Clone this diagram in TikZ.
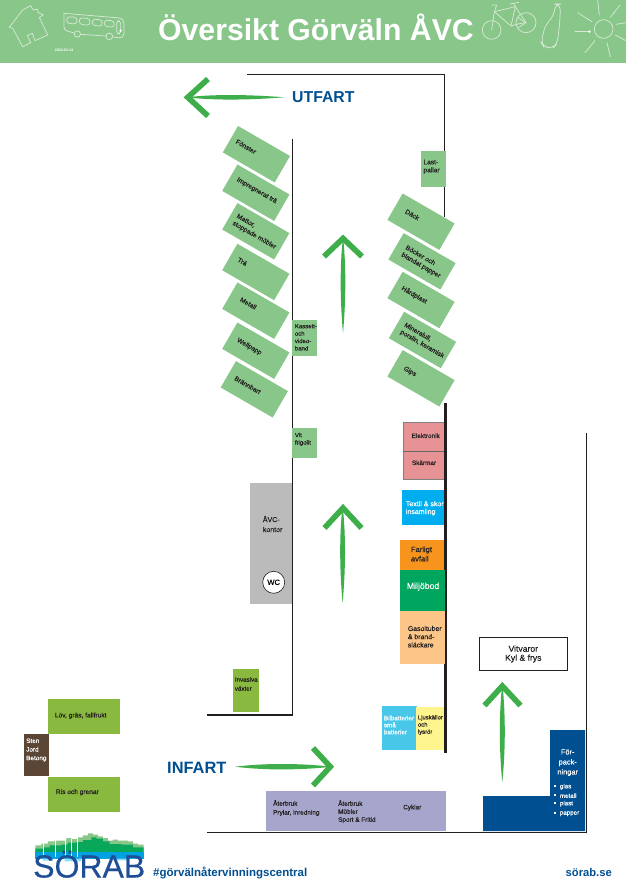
\documentclass[tikz,border=0pt]{standalone}
\usepackage{fontspec}
\setmainfont{Liberation Sans}
\newfontfamily\labelface{Liberation Sans}[RawFeature={embolden=0.35}]
\newcommand{\fs}[2]{\labelface\fontsize{#1}{#2}\selectfont}
\newcommand{\fb}[2]{\rmfamily\fontsize{#1}{#2}\selectfont\bfseries}
\definecolor{inkdark}{HTML}{231F20}
\definecolor{headgreen}{HTML}{89C68A}
\definecolor{iconline}{HTML}{D5EAD5}
\definecolor{arrowgreen}{HTML}{3DAE49}
\definecolor{grassgreen}{HTML}{8AB93F}
\definecolor{sorabblue}{HTML}{004F91}
\definecolor{logoblue}{HTML}{1F4E96}
\definecolor{redbox}{HTML}{E79396}
\definecolor{skyblue}{HTML}{00AEEF}
\definecolor{hazard}{HTML}{F7941D}
\definecolor{envgreen}{HTML}{00A65D}
\definecolor{peach}{HTML}{FDC689}
\definecolor{lightcyan}{HTML}{49C7E9}
\definecolor{paleyellow}{HTML}{FFF58F}
\definecolor{officegrey}{HTML}{BCBBBC}
\definecolor{soilbrown}{HTML}{5B4636}
\definecolor{lilac}{HTML}{A6A6CD}
\tikzset{
  wall/.style={draw=inkdark,line width=1.1pt,line cap=butt,line join=miter},
  thickwall/.style={draw=inkdark,line width=3pt},
  area/.style={draw=none,inner sep=0pt,outer sep=0pt},
  slot/.style={area,fill=headgreen,minimum width=60pt,minimum height=30.5pt,rotate=-30},
  slottext/.style={inner sep=0pt,rotate=-30,align=left,text=inkdark,font=\fs{6.6}{8.2}},
  lbl/.style={inner sep=0pt,anchor=west,align=left,text=inkdark,font=\fs{6.6}{8}},
  lblw/.style={lbl,text=white},
  shaft/.style={fill=arrowgreen,draw=none},
  chevron/.style={draw=arrowgreen,line width=5.6pt,line join=miter,line cap=butt},
  sketch/.style={draw=iconline,line width=0.75pt,line join=round,line cap=round,densely dotted,dash pattern=on 1.6pt off 0.35pt},
}
\begin{document}
\begin{tikzpicture}[x=1pt,y=-1pt]
\useasboundingbox (0,0) rectangle (626,896);
\fill[white] (0,0) rectangle (626,896);

% header band
\fill[headgreen] (0,0) rectangle (626,63);
\node[inner sep=0pt,anchor=base west,text=white,font=\fb{30.2}{32}] (title) at (158,41) {Översikt Görväln ÅVC};
\node[inner sep=0pt,text=white,font=\fb{3.6}{4}] (date) at (64,50.3) {2023-01-14};

% house and bus sketches
\begin{scope}[x=0.3333pt,y=-0.3333pt]
  \draw[sketch] (28,82) -- (68,30) -- (92,17) -- (100,30) -- (112,27) -- (115,38) -- (130,45) -- (118,52) -- (143,105) -- (105,122) -- (97,100) -- (82,107) -- (92,128) -- (68,140) -- (38,85) -- cycle;
  \draw[sketch,rounded corners=5pt] (192,40) -- (372,55) -- (372,116) -- (340,111);
  \draw[sketch,rounded corners=3pt] (192,40) -- (192,90) -- (222,99);
  \draw[sketch] (242,103) -- (318,108);
  \draw[sketch] (232,102) circle (9.5);
  \draw[sketch] (328,109) circle (10);
  \draw[sketch,rounded corners=3pt] (200,50) -- (231,52) -- (231,72) -- (200,70) -- cycle;
  \draw[sketch,rounded corners=3pt] (238,53) -- (270,56) -- (270,76) -- (238,73) -- cycle;
  \draw[sketch,rounded corners=3pt] (277,57) -- (307,60) -- (307,79) -- (277,76) -- cycle;
  \draw[sketch,rounded corners=3pt] (313,60) -- (343,63) -- (343,82) -- (313,79) -- cycle;
  \draw[sketch,rounded corners=3pt] (350,62) -- (362,63) -- (362,102) -- (350,101) -- cycle;
  \fill[white] (362,92) circle (4);
\end{scope}

% bicycle, bottle and sun sketches
\begin{scope}[shift={(476,0)},x=0.3333pt,y=-0.3333pt]
  \draw[sketch] (47,90) circle (28);
  \draw[sketch] (150,68) circle (30);
  \draw[sketch] (47,90) -- (55,35) -- (118,20) -- (150,68) -- (125,72) -- (105,78) -- (55,35);
  \draw[sketch] (105,78) -- (118,20);
  \draw[sketch] (48,15) -- (62,15) -- (55,35);
  \draw[sketch] (102,12) -- (128,7);
  \draw[sketch] (118,20) -- (112,10);
  \draw[sketch] (125,52) -- (150,68) -- (128,82);
  \draw[sketch,rounded corners=6pt] (195,127) -- (208,75) -- (235,45) -- (237,12) -- (253,12) -- (252,60) -- (244,130) -- (230,146) -- (203,140) -- cycle;
  \draw[sketch] (383,87) circle (28);
  \foreach \ax/\ay/\bx/\by in {365/0/370/45, 432/15/403/52, 450/68/420/73, 450/122/418/105, 393/128/403/170, 357/122/327/158, 340/95/297/95, 348/65/305/38}
    \draw[sketch] (\ax,\ay) -- (\bx,\by);
  \fill[white] (340,95) circle (4);
\end{scope}

% site boundary walls
\draw[wall] (247,74.5) -- (444.3,74.5) -- (444.3,217);
\draw[wall] (292.4,139) -- (292.4,715) -- (207.3,715);
\draw[wall] (207.3,832.3) -- (586.3,832.3) -- (586.3,433);

% angled containers, left row
\node[slot] (fonster) at (256.4,154.2) {};
\node[slot] (impregnerat) at (255.8,192.7) {};
\node[slot] (mattor) at (255.8,231.3) {};
\node[slot] (tra) at (255.8,272) {};
\node[slot] (metall) at (255.8,310.7) {};
\node[slot] (wellpapp) at (255.8,350.7) {};
\node[slot] (brannbart) at (254.3,389.3) {};
\node[slottext] (t1) at (246,146.7) {Fönster};
\node[slottext] (t2) at (256.7,190.7) {Impregnerat trä};
\node[slottext] (t3) at (256.3,231.8) {Mattor,\\stoppade möbler};
\node[slottext] (t4) at (242.3,261.7) {Trä};
\node[slottext] (t5) at (248.3,303.3) {Metall};
\node[slottext] (t6) at (249.3,346.7) {Wellpapp};
\node[slottext] (t7) at (247.7,385) {Brännbart};

% angled containers, right row
\node[slot] (dack) at (421,221.7) {};
\node[slot] (bocker) at (422,261.3) {};
\node[slot] (hardplast) at (421,300) {};
\node[slot] (mineralull) at (422.5,340) {};
\node[slot] (gips) at (421,378.3) {};
\node[slottext] (t8) at (412.3,214.7) {Däck};
\node[slottext] (t9) at (423,262) {Böcker och\\blandat papper};
\node[slottext] (t10) at (414.3,295) {Hårdplast};
\node[slottext] (t11) at (424.2,340.7) {Mineralull,\\porslin, keramisk};
\node[slottext] (t12) at (410,371.7) {Gips};

% small upright bays
\fill[headgreen] (421,151) rectangle (446,186.7);
\node[lbl] (t13) at (423.3,166.7) {Last-\\pallar};
\fill[headgreen] (292,320) rectangle (317,355.7);
\node[lbl,font=\fs{6}{7.4}] (t14) at (294.7,337.3) {Kassett-\\och\\video-\\band};
\fill[headgreen] (292,428) rectangle (317,457.7);
\node[lbl,font=\fs{6}{7.4}] (t15) at (294.7,439.3) {Vit\\frigolit};

% station along the central wall
\draw[thickwall] (445.3,403) -- (445.3,753);
\draw[draw=gray,line width=0.8pt,fill=redbox] (444,422.3) -- (403.3,422.3) -- (403.3,479.3) -- (444,479.3);
\draw[draw=gray!80!black,line width=0.8pt] (403.3,451.3) -- (444,451.3);
\node[lbl,anchor=center,font=\fs{6.4}{8}] (t16) at (425.7,435.7) {Elektronik};
\node[lbl,anchor=center,font=\fs{6.4}{8}] (t17) at (424,462.7) {Skärmar};
\fill[skyblue] (402,490) rectangle (444,525);
\node[lblw,font=\fs{7}{7.8}] (t18) at (405.7,508.3) {Textil \& skor\\insamling};
\fill[hazard] (400,540) rectangle (444,570);
\node[lbl,font=\fs{7.6}{9.4}] (t19) at (410.7,554) {Farligt\\avfall};
\fill[envgreen] (400,570) rectangle (445,611);
\node[lblw,font=\fs{8.7}{10}] (t20) at (406.7,586.7) {Miljöbod};
\fill[peach] (400,611) rectangle (445,664);
\node[lbl,font=\fs{6.9}{8.2}] (t21) at (407.7,636.7) {Gasoltuber\\\& brand-\\släckare};
\fill[lightcyan] (382,706) rectangle (417,750);
\node[lblw,font=\fs{6.3}{7}] (t22) at (383.7,725) {Bilbatterier\\små\\batterier};
\fill[paleyellow] (416,707) rectangle (444,750);
\node[lbl,font=\fs{5.9}{7.2}] (t23) at (417.7,725) {Ljuskällor\\och\\lysrör};

% office
\fill[officegrey] (250,483) rectangle (292,603.7);
\node[lbl,font=\fs{7}{10}] (t24) at (262.7,524) {ÅVC-\\kontor};
\node[circle,draw=inkdark,fill=white,line width=0.6pt,minimum size=22pt,inner sep=0pt,font=\fs{7.6}{8}] (wc) at (273.7,582.3) {WC};

% garden waste and soil
\fill[grassgreen] (233,669) rectangle (259,711.7);
\node[lbl,font=\fs{6.2}{9}] (t25) at (234.7,684) {Invasiva\\växter};
\fill[grassgreen] (48,699) rectangle (120,734);
\node[lbl] (t26) at (54.7,715.7) {Löv, gräs, fallfrukt};
\fill[soilbrown] (24,734) rectangle (49,776);
\node[lblw,font=\fs{6.4}{8.6}] (t27) at (26,750) {Sten\\Jord\\Betong};
\fill[grassgreen] (48,777) rectangle (120,812);
\node[lbl] (t28) at (55.7,792.3) {Ris och grenar};

% reuse bar
\fill[lilac] (266,791) rectangle (446,831);
\node[lbl,font=\fs{6.4}{9}] (t29) at (273,808) {Återbruk\\Prylar, inredning};
\node[lbl,font=\fs{6.4}{8}] (t30) at (338,811.7) {Återbruk\\Möbler\\Sport \& Fritid};
\node[lbl,font=\fs{6.4}{8}] (t31) at (403,807.7) {Cyklar};

% white goods
\node[draw=inkdark,line width=0.8pt,fill=white,inner sep=0pt,minimum width=88pt,minimum height=33.4pt,align=center,text=inkdark,font=\fs{8.6}{9}] (vitvaror) at (523.3,654) {Vitvaror\\Kyl \& frys};

% packaging
\fill[sorabblue] (550,730) -- (585,730) -- (585,831) -- (483,831) -- (483,796) -- (550,796) -- cycle;
\node[text=white,inner sep=0pt,align=center,font=\fs{7.4}{10}] (t32) at (567.7,762.7) {För-\\pack-\\ningar};
\foreach \yy/\word/\nm in {786.7/glas/pa,795.7/metall/pb,803.7/plast/pc,813.7/papper/pd}{
  \fill[white] (554,\yy-2) rectangle (556,\yy);
  \node[lblw,font=\fs{6.2}{7}] (\nm) at (559.7,\yy) {\word};
}

% traffic arrows: tapered shaft plus chevron head
\fill[shaft] (284,97.3) .. controls (250,94.6) and (215,94) .. (186,97.3) .. controls (215,100.6) and (250,100) .. (284,97.3) -- cycle;
\draw[chevron] (208,79) -- (187.8,97.3) -- (208,116);
\node[inner sep=0pt,anchor=base west,text=sorabblue,font=\fb{15.8}{17}] (utfart) at (292,102.8) {UTFART};

\fill[shaft] (343,333) .. controls (340,300) and (339.8,265) .. (343,237) .. controls (346.2,265) and (346,300) .. (343,333) -- cycle;
\draw[chevron] (324,256.5) -- (343,238.4) -- (362,256.5);

\fill[shaft] (342.6,603) .. controls (339.6,570) and (339.2,535) .. (342.6,506) .. controls (346,535) and (345.6,570) .. (342.6,603) -- cycle;
\draw[chevron] (324.5,528) -- (343,508) -- (361.5,528);

\fill[shaft] (235,766.7) .. controls (265,763) and (300,763.2) .. (332,766.7) .. controls (300,770.2) and (265,770.4) .. (235,766.7) -- cycle;
\draw[chevron] (313,748) -- (330.3,766.7) -- (313,785.5);
\node[inner sep=0pt,anchor=base west,text=sorabblue,font=\fb{16.4}{18}] (infart) at (167,773.4) {INFART};

\fill[shaft] (502.3,782) .. controls (499,750) and (499,712) .. (502.3,684) .. controls (505.6,712) and (505.6,750) .. (502.3,782) -- cycle;
\draw[chevron] (484.5,705.5) -- (502.3,686) -- (520.5,705.5);

% logo: ridge line over a water band
\begin{scope}[shift={(28,828)},x=0.3333pt,y=-0.3333pt]
  \fill[headgreen] (22,75) -- (22,52) -| (40,47) -| (60,40) -| (78,38) -| (100,38) -| (115,30) -| (130,33) -| (150,28) -| (165,22) -| (180,16) -| (195,20) -| (210,25) -| (225,30) -| (240,38) -| (255,35) -| (270,38) -| (285,38) -| (300,40) -| (315,47) -| (330,50) -| (347,55) -- (347,75) -- cycle;
  \fill[envgreen!85!arrowgreen] (22,75) -- (22,62) -| (45,58) -| (65,52) -| (100,50) -| (120,44) -| (145,42) -| (165,36) -| (190,28) -| (205,32) -| (225,40) -| (245,48) -| (280,50) -| (315,58) -| (347,66) -- (347,75) -- cycle;
  \fill[skyblue!85!sorabblue] (22,73) rectangle (347,92);
  \fill[skyblue!45] (30,92) -| (45,98) -| (70,92) -| (110,100) -| (160,92) -| (250,97) -| (300,92) -| (340,98) -- (340,92) -- cycle;
  \foreach \xx in {47,82,113,130,148}
    \fill[white] (\xx-1,32) rectangle (\xx+1,88);
\end{scope}
\node[inner sep=0pt,anchor=base west,text=logoblue,font=\fs{32}{34}] (sorab) at (33,877.5) {SÖRAB};

% footer texts
\node[inner sep=0pt,anchor=base west,text=sorabblue,font=\fb{11.5}{13}] (hashtag) at (153,876.7) {\#görvälnåtervinningscentral};
\node[inner sep=0pt,anchor=base east,text=sorabblue,font=\fb{11.2}{13}] (web) at (612,876.3) {sörab.se};
\end{tikzpicture}
\end{document}
